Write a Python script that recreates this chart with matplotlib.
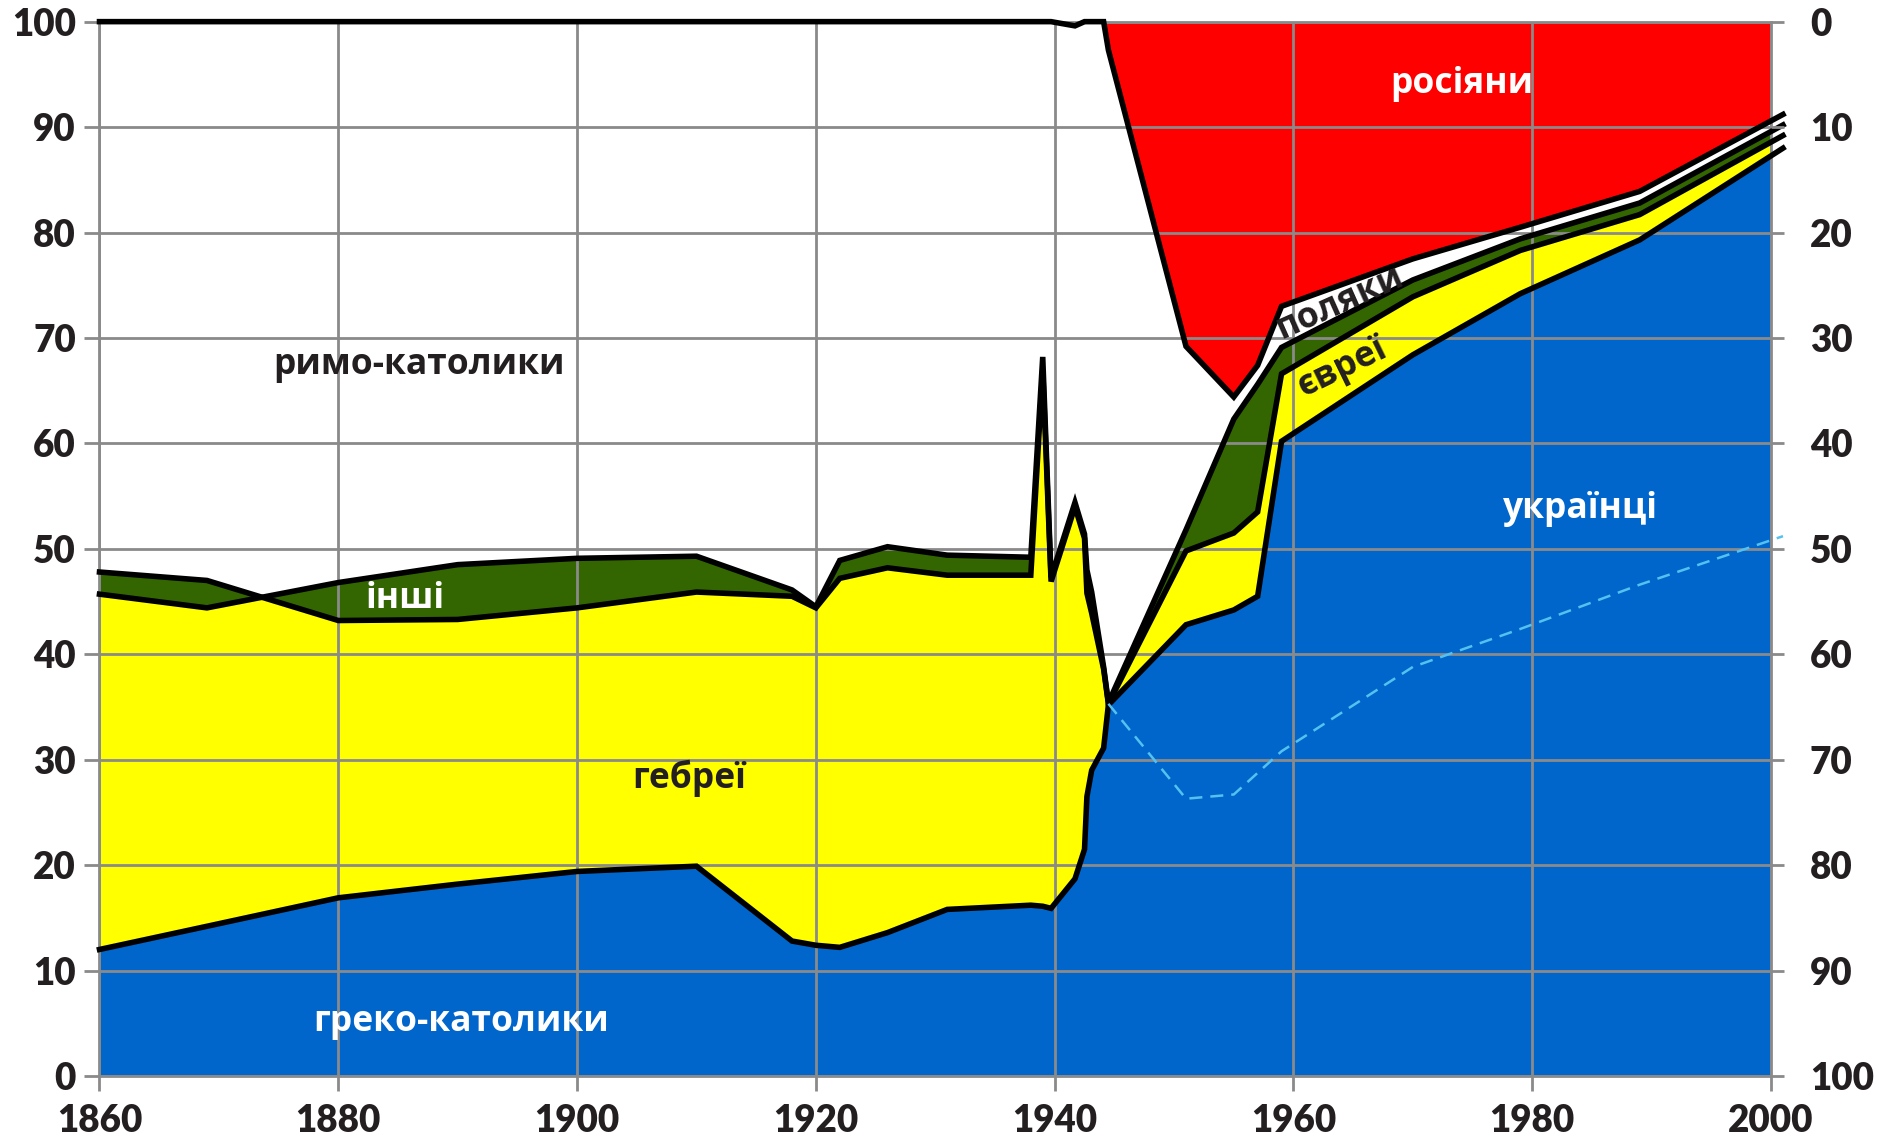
import numpy as np
import matplotlib
matplotlib.use('Agg')
import matplotlib.pyplot as plt

# census points (years) and shares of each group, % of the city population
years = np.array([1860, 1869, 1880, 1890, 1900, 1910, 1918, 1920, 1922, 1926, 1931,
                  1938, 1939, 1939.7, 1941.7, 1942.5, 1942.7, 1943.1, 1944.1, 1944.5,
                  1951, 1955, 1957, 1959, 1970, 1979, 1989, 2001])
ukrainians = np.array([12.0, 14.2, 16.9, 18.2, 19.4, 19.9, 12.8, 12.4, 12.2, 13.6, 15.8,
                       16.2, 16.1, 15.9, 18.7, 21.5, 26.5, 29.0, 31.1, 35.2,
                       42.8, 44.2, 45.5, 60.2, 68.4, 74.2, 79.3, 88.0])
jews = np.array([35.8, 32.8, 26.3, 25.1, 25.0, 26.0, 32.7, 32.0, 35.0, 34.6, 31.7,
                 31.3, 50.9, 31.0, 35.3, 29.5, 19.3, 14.9, 7.5, 0.1,
                 7.0, 7.3, 8.0, 6.4, 5.5, 4.1, 2.4, 1.2])
others = np.array([-2.1, -2.6, 3.6, 5.2, 4.7, 3.4, 0.6, 0.1, 1.7, 2.0, 1.9,
                   1.7, 1.2, 0.4, 0.4, 0.4, 2.2, 2.0, 0.2, 0.1,
                   2.0, 10.8, 12.1, 2.5, 1.6, 1.1, 1.1, 1.0])
poles = np.array([54.3, 55.6, 53.2, 51.5, 50.9, 50.7, 53.9, 55.5, 51.1, 49.8, 50.6,
                  50.8, 31.8, 52.7, 45.2, 48.6, 52.0, 54.1, 61.2, 61.9,
                  17.4, 2.1, 1.8, 3.9, 2.0, 1.1, 1.1, 1.0])
russians = np.array([0, 0, 0, 0, 0, 0, 0, 0, 0, 0, 0,
                     0, 0, 0, 0.4, 0, 0, 0, 0, 2.7,
                     30.8, 35.6, 32.6, 27.0, 22.5, 19.5, 16.1, 8.8])

# dashed line
dash_years = [1944.5, 1951, 1955, 1959, 1970, 1979, 1989, 2001]
dash_vals = [35.3, 26.3, 26.7, 30.8, 38.8, 42.4, 46.6, 51.2]

labels = [
    ('римо-католики', 1886.8, 67.4, '#231F20', 0),
    ('гебреї', 1909.4, 28.2, '#231F20', 0),
    ('греко-католики', 1890.3, 5.1, 'white', 0),
    ('інші', 1885.6, 45.2, 'white', 0),
    ('росіяни', 1974.1, 94.1, 'white', 0),
    ('українці', 1984.0, 53.8, 'white', 0),
    ('поляки', 1963.9, 73.3, '#231F20', 24),
    ('євреї', 1964.1, 67.2, '#231F20', 26),
]

BLUE = '#0066CC'
YELLOW = '#FFFF00'
GREEN = '#336600'
RED = '#FF0000'
GRAY = '#8a8a8a'

b = ukrainians
y = b + jews
g = y + others
p = g + poles

fig = plt.figure(figsize=(18.79, 11.38), dpi=100)
ax = fig.add_axes([0.05295, 0.05448, 0.8896, 0.9265])

ax.fill_between(years, 0, b, color=BLUE, lw=0)
ax.fill_between(years, b, y, color=YELLOW, lw=0)
ax.fill_between(years, y, g, color=GREEN, lw=0)
ax.fill_between(years, p, p + russians, where=years >= 1944, color=RED, lw=0)

for line in (b, y, g, p):
    ax.plot(years, line, color='black', lw=4.0, solid_joinstyle='miter',
            clip_on=False, zorder=3)

ax.plot(dash_years, dash_vals, color='#55C1EE', lw=1.8, dashes=(5.2, 3.2),
        clip_on=False, zorder=3)

for txt, tx, ty, col, rot in labels:
    ax.text(tx, ty, txt, color=col, rotation=rot, ha='center', va='center',
            fontsize=25.5, fontweight='bold', family=['Open Sans', 'DejaVu Sans'],
            zorder=4)

ax.set_xlim(1860, 2000)
ax.set_ylim(0, 100)
ax.set_xticks(range(1860, 2001, 20))
ax.set_yticks(range(0, 101, 10))
ax.grid(True, color=GRAY, lw=2)
for s in ax.spines.values():
    s.set_color(GRAY)
    s.set_linewidth(2)

tick_font = dict(family=['Lato', 'DejaVu Sans'], weight='heavy', size=26.5)
ax.tick_params(axis='both', direction='out', color=GRAY, width=2, labelcolor='#231F20')
ax.tick_params(axis='y', length=11, pad=6)
ax.tick_params(axis='x', length=11, pad=9)
for lab in ax.get_xticklabels() + ax.get_yticklabels():
    lab.set(**tick_font)

# right axis counts from the top
ax2 = ax.twinx()
ax2.set_ylim(100, 0)
ax2.set_yticks(range(0, 101, 10))
ax2.tick_params(axis='y', direction='out', length=9, width=2, color=GRAY,
                pad=19, labelcolor='#231F20')
for lab in ax2.get_yticklabels():
    lab.set(**tick_font)
for s in ax2.spines.values():
    s.set_visible(False)

fig.savefig('out.png', dpi=100, facecolor='white')
